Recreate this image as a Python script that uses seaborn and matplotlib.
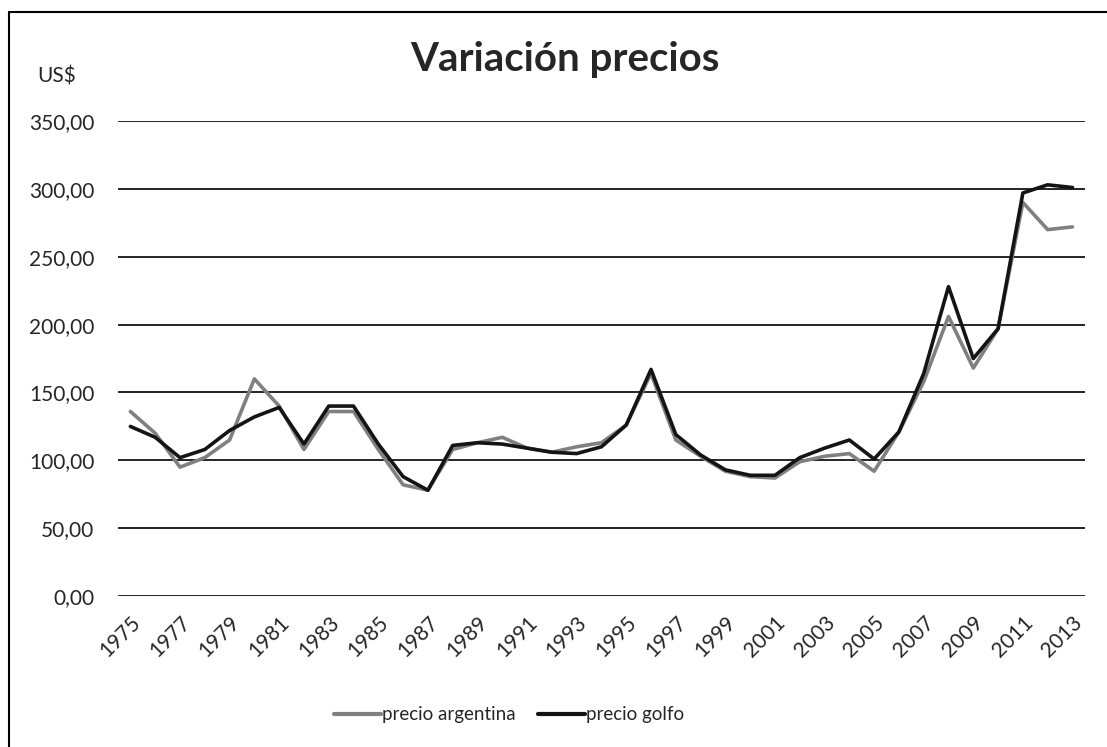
import matplotlib
matplotlib.use("Agg")
import matplotlib.pyplot as plt
from matplotlib.ticker import FuncFormatter
from matplotlib.lines import Line2D
import pandas as pd
import seaborn as sns

anios = list(range(1975, 2014))

precio_argentina = [136, 120, 95, 102, 115, 160, 140, 108, 136, 136,
                    108, 82, 78, 108, 113, 117, 109, 106, 110, 113,
                    126, 164, 115, 103, 92, 88, 87, 99, 103, 105,
                    92, 121, 158, 206, 168, 197, 290, 270, 272]

precio_golfo = [125, 117, 102, 108, 122, 132, 139, 112, 140, 140,
                112, 88, 78, 111, 113, 112, 109, 106, 105, 110,
                126, 167, 119, 104, 93, 89, 89, 102, 109, 115,
                101, 121, 164, 228, 175, 197, 297, 303, 301]

series = ["precio argentina", "precio golfo"]
colores = ["#808080", "#141414"]

df = pd.DataFrame({"anio": anios,
                   "precio argentina": precio_argentina,
                   "precio golfo": precio_golfo})
df_largo = df.melt(id_vars="anio", var_name="serie", value_name="precio")

sns.set_style("white")
plt.rcParams["font.family"] = ["Lato", "DejaVu Sans"]

fig = plt.figure(figsize=(11.07, 7.47), dpi=100)
ax = fig.add_axes([0.1066, 0.202, 0.8734, 0.636])

sns.lineplot(data=df_largo, x="anio", y="precio", hue="serie",
             hue_order=series, palette=colores, linewidth=2.6,
             legend=False, ax=ax)

ax.set_xlim(anios[0] - 0.5, anios[-1] + 0.5)
ax.set_ylim(0, 350)
ax.set_yticks(range(0, 351, 50))
ax.yaxis.set_major_formatter(FuncFormatter(lambda v, p: f"{v:.2f}".replace(".", ",")))
ax.set_xticks(anios[::2])
ax.set_xticklabels([str(a) for a in anios[::2]], rotation=45, ha="right",
                   rotation_mode="anchor")
ax.tick_params(axis="both", length=0, labelsize=15)
ax.tick_params(axis="y", pad=17)
ax.tick_params(axis="x", pad=12)
ax.grid(axis="y", color="black", linewidth=1.2)
ax.set_axisbelow(True)
for s in ax.spines.values():
    s.set_visible(False)
ax.set_xlabel("")
ax.set_ylabel("")

fig.text(0.510, 0.920, "Variación precios", ha="center", va="center",
         fontsize=29, fontweight="bold")
fig.text(0.034, 0.898, "US$", ha="left", va="center", fontsize=15)

handles = [Line2D([0], [0], color=c, linewidth=3) for c in colores]
fig.legend(handles, series, loc="center", bbox_to_anchor=(0.46, 0.043),
           ncol=2, frameon=False, fontsize=13.5, handlelength=2.5,
           handletextpad=0.05, columnspacing=1.2)

# marco del grafico (solo borde superior e izquierdo visibles)
fig.add_artist(Line2D([0.008, 1.0], [0.984, 0.984], transform=fig.transFigure,
                      color="black", linewidth=1.5))
fig.add_artist(Line2D([0.008, 0.008], [0.0, 0.984], transform=fig.transFigure,
                      color="black", linewidth=1.5))

fig.savefig("out.png", dpi=100)
